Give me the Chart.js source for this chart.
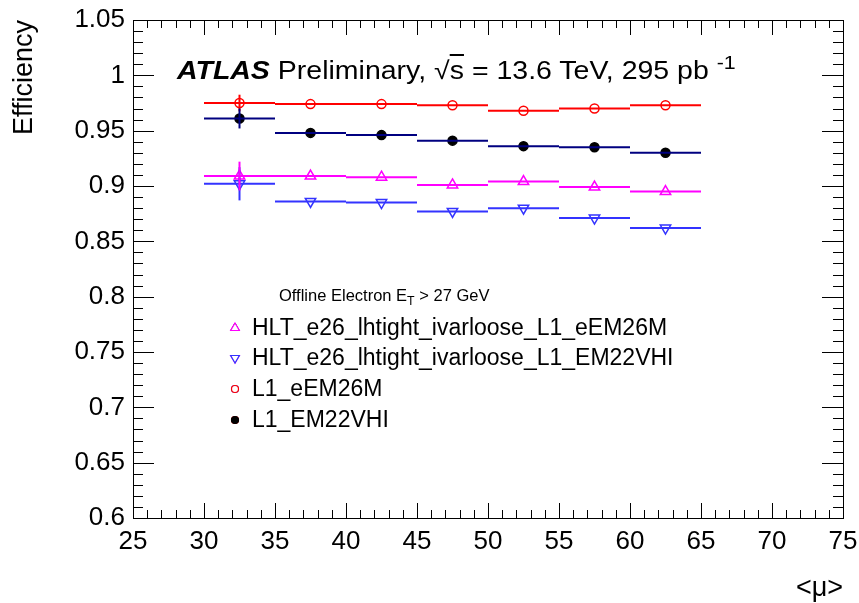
<!DOCTYPE html>
<html>
<head>
<meta charset="utf-8">
<script src="https://cdn.jsdelivr.net/npm/chart.js@4.4.1/dist/chart.umd.min.js"></script>
<style>
  html, body { margin: 0; padding: 0; background: #fff; }
  #wrap { position: relative; width: 859px; height: 603px; }
  .lbl {
    position: absolute;
    font-family: "Liberation Sans", Arial, sans-serif;
    color: #000;
    white-space: nowrap;
    line-height: 1;
    transform-origin: left center;
  }
  .ovl { text-decoration: overline; }
  .sup { position: relative; top: -0.55em; font-size: 0.75em; }
  .sub { position: relative; top: 0.3em; font-size: 0.75em; }
</style>
</head>
<body>
<div id="wrap">
  <canvas id="effChart" width="859" height="603"></canvas>
  <div class="lbl" style="left:177px;top:58px;font-size:25px;transform:scaleX(1.14);">
    <b><i>ATLAS</i></b> Preliminary, √<span class="ovl">s</span> = 13.6 TeV, 295 pb <span class="sup">-1</span>
  </div>
  <div class="lbl" style="left:279px;top:287px;font-size:16.5px;">
    Offline Electron E<span class="sub">T</span> &gt; 27 GeV
  </div>
  <div class="lbl" style="left:252px;top:316px;font-size:23px;">HLT_e26_lhtight_ivarloose_L1_eEM26M</div>
  <div class="lbl" style="left:252px;top:346px;font-size:23px;">HLT_e26_lhtight_ivarloose_L1_EM22VHI</div>
  <div class="lbl" style="left:252px;top:377px;font-size:23px;">L1_eEM26M</div>
  <div class="lbl" style="left:252px;top:408px;font-size:23px;">L1_EM22VHI</div>
</div>
<script>
// <mu> bins
const binEdges = [30, 35, 40, 45, 50, 55, 60, 65];
const muCenters = [32.5, 37.5, 42.5, 47.5, 52.5, 57.5, 62.5];

// efficiencies
const effHltEEM26M = [0.909, 0.909, 0.908, 0.901, 0.904, 0.899, 0.895];
const errHltEEM26M = [0.013, 0, 0, 0, 0, 0, 0];
const effHltEM22VHI = [0.902, 0.886, 0.885, 0.877, 0.880, 0.871, 0.862];
const errHltEM22VHI = [0.015, 0, 0, 0, 0, 0, 0];
const effL1eEM26M = [0.975, 0.974, 0.974, 0.973, 0.968, 0.970, 0.973];
const errL1eEM26M = [0.0075, 0, 0, 0, 0, 0, 0];
const effL1EM22VHI = [0.961, 0.948, 0.946, 0.941, 0.936, 0.935, 0.930];
const errL1EM22VHI = [0.009, 0, 0, 0, 0, 0, 0];

const xTickVals = [25, 30, 35, 40, 45, 50, 55, 60, 65, 70, 75];
const yTickVals = [0.6, 0.65, 0.7, 0.75, 0.8, 0.85, 0.9, 0.95, 1, 1.05];

const FONT = '"Liberation Sans", Arial, sans-serif';

function stepData(vals) {
  const pts = [];
  vals.forEach((v, i) => {
    pts.push({ x: binEdges[i], y: v }, { x: binEdges[i + 1], y: v }, { x: binEdges[i + 1], y: null });
  });
  return pts;
}

function errData(vals, errs) {
  const pts = [];
  vals.forEach((v, i) => {
    if (errs[i] > 0) {
      pts.push({ x: muCenters[i], y: v - errs[i] }, { x: muCenters[i], y: v + errs[i] }, { x: muCenters[i], y: null });
    }
  });
  return pts;
}

function pointData(vals) {
  return vals.map((v, i) => ({ x: muCenters[i], y: v }));
}

const series = [
  { vals: effHltEEM26M, errs: errHltEEM26M, line: "#ff00ff", style: "triangle", rot: 0, fill: "#fff", edge: "#ff00ff", r: 6 },
  { vals: effHltEM22VHI, errs: errHltEM22VHI, line: "#3333ff", style: "triangle", rot: 180, fill: "#fff", edge: "#3333ff", r: 6 },
  { vals: effL1EM22VHI, errs: errL1EM22VHI, line: "#000080", style: "circle", rot: 0, fill: "#000", edge: "#000", r: 4.5 },
  { vals: effL1eEM26M, errs: errL1eEM26M, line: "#ff0000", style: "circle", rot: 0, fill: "#fff", edge: "#ff0000", r: 4.5 },
];

const datasets = [];
series.forEach((s) => {
  datasets.push({
    data: stepData(s.vals), showLine: true, spanGaps: false,
    borderColor: s.line, borderWidth: 2, pointRadius: 0,
  });
  datasets.push({
    data: errData(s.vals, s.errs), showLine: true, spanGaps: false,
    borderColor: s.line, borderWidth: 2, pointRadius: 0,
  });
});
series.forEach((s) => {
  datasets.push({
    data: pointData(s.vals), showLine: false,
    pointStyle: s.style, rotation: s.rot, pointRadius: s.r,
    pointBackgroundColor: s.fill, pointBorderColor: s.edge, pointBorderWidth: 1.5,
  });
});

// ROOT-like frame with inward ticks on all four sides, plus legend markers
const rootFrame = {
  id: "rootFrame",
  afterDraw(chart) {
    const { ctx, chartArea: { left, right, top, bottom }, scales: { x, y } } = chart;
    ctx.save();
    ctx.strokeStyle = "#000";
    ctx.lineWidth = 1;
    ctx.strokeRect(left + 0.5, top + 0.5, right - left, bottom - top);
    ctx.beginPath();
    for (let v = 25; v <= 75; v++) {
      const px = Math.round(x.getPixelForValue(v)) + 0.5;
      const len = v % 5 === 0 ? 15 : 8;
      ctx.moveTo(px, bottom); ctx.lineTo(px, bottom - len);
      ctx.moveTo(px, top); ctx.lineTo(px, top + len);
    }
    for (let k = 60; k <= 105; k++) {
      const py = Math.round(y.getPixelForValue(k / 100)) + 0.5;
      const len = k % 5 === 0 ? 21 : 10;
      ctx.moveTo(left, py); ctx.lineTo(left + len, py);
      ctx.moveTo(right, py); ctx.lineTo(right - len, py);
    }
    ctx.stroke();

    // legend markers
    const legendRows = [
      { yc: 328, s: series[0] },
      { yc: 358, s: series[1] },
      { yc: 389, s: series[3] },
      { yc: 420, s: series[2] },
    ];
    legendRows.forEach(({ yc, s }) => {
      Chart.helpers.drawPoint(ctx, {
        pointStyle: s.style, rotation: s.rot, radius: s.r - 1, borderWidth: 1.2,
      }, 235, yc);
      ctx.fillStyle = s.fill;
      ctx.strokeStyle = s.edge;
      ctx.lineWidth = 1.2;
      ctx.fill();
      ctx.stroke();
    });
    ctx.restore();
  },
};

new Chart(document.getElementById("effChart"), {
  type: "scatter",
  data: { datasets },
  options: {
    responsive: false,
    animation: false,
    events: [],
    layout: { padding: { top: 20, right: 16, left: 0, bottom: 0 } },
    plugins: { legend: { display: false }, tooltip: { enabled: false } },
    scales: {
      x: {
        type: "linear", min: 25, max: 75,
        afterBuildTicks: (s) => { s.ticks = xTickVals.map((v) => ({ value: v })); },
        afterFit: (s) => { s.height = 85; s.paddingLeft = 0; s.paddingRight = 0; },
        grid: { display: false, drawTicks: false },
        border: { display: false },
        ticks: { color: "#000", font: { family: FONT, size: 26 }, padding: 8, maxRotation: 0 },
        title: {
          display: true, text: "<\u03bc>", align: "end", color: "#000",
          font: { family: FONT, size: 27, lineHeight: 1 }, padding: { top: 4, bottom: 1 },
        },
      },
      y: {
        type: "linear", min: 0.6, max: 1.05,
        afterBuildTicks: (s) => { s.ticks = yTickVals.map((v) => ({ value: v })); },
        afterFit: (s) => { s.width = 133; s.paddingTop = 0; s.paddingBottom = 0; },
        grid: { display: false, drawTicks: false },
        border: { display: false },
        ticks: {
          color: "#000", font: { family: FONT, size: 26 }, padding: 8,
          callback: (v) => String(+v.toFixed(2)),
        },
        title: {
          display: true, text: "Efficiency", align: "end", color: "#000",
          font: { family: FONT, size: 27 }, padding: { top: 8, bottom: 4 },
        },
      },
    },
  },
  plugins: [rootFrame],
});
</script>
</body>
</html>
